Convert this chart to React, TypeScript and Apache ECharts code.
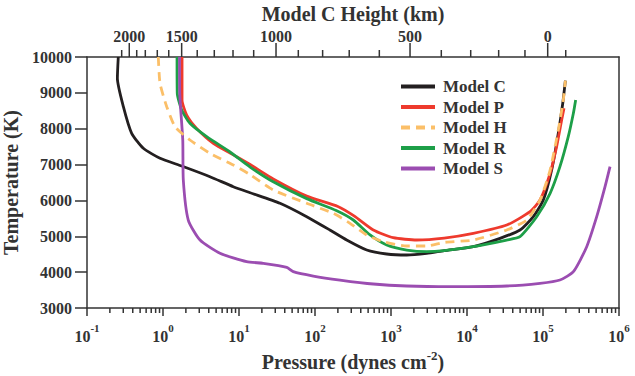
import React, { useEffect, useRef } from "react";
import * as echarts from "echarts";

const FONT = "Liberation Serif";
const INK = "#333333";

const modelNames = ["Model C", "Model P", "Model H", "Model R", "Model S"];
const modelColors = ["#231f20", "#ee3a2d", "#fbbf68", "#1d9f48", "#9b4db1"];

// Temperature structure of each model: [pressure (dynes cm^-2), temperature (K)]
const modelC: number[][] = [
  [0.258, 10000], [0.251, 9406], [0.301, 8614], [0.387, 7872], [0.551, 7454],
  [0.914, 7175], [1.76, 6960], [4.15, 6662], [8.41, 6383], [14.0, 6215],
  [34.6, 5920], [77.8, 5546], [157, 5175], [261, 4896], [479, 4617],
  [877, 4506], [1610, 4478], [2950, 4525], [5010, 4600], [12100, 4710],
  [27200, 4943], [49800, 5175], [74600, 5546], [101000, 6012], [130000, 6848],
  [159000, 7872], [182000, 8709], [197000, 9339],
];

const modelP: number[][] = [
  [1.78, 10000], [1.78, 8800], [2.05, 8380], [2.77, 8010], [4.59, 7590],
  [8.41, 7270], [14.0, 7000], [28.2, 6600], [77.8, 6120], [200, 5830],
  [330, 5560], [585, 5175], [1070, 4960], [2180, 4896], [5010, 4950],
  [12100, 5082], [33300, 5314], [67500, 5686], [91400, 6012], [124000, 6756],
  [151000, 7500], [176000, 8243], [189000, 8569],
];

const modelH: number[][] = [
  [0.867, 10000], [0.914, 9266], [1.12, 8614], [1.44, 8056], [2.26, 7685],
  [4.15, 7314], [8.41, 6988], [14.0, 6720], [28.2, 6291], [77.8, 5920],
  [174, 5640], [289, 5361], [479, 5036], [793, 4850], [1610, 4729],
  [2950, 4729], [5010, 4830], [12100, 4896], [33300, 5175], [61000, 5454],
  [91400, 6012], [124000, 6848], [159000, 7964], [185000, 8801], [197000, 9339],
];

const modelR: number[][] = [
  [1.53, 10000], [1.54, 8988], [1.76, 8522], [2.26, 8151], [3.76, 7777],
  [7.62, 7350], [14.0, 6930], [28.2, 6520], [77.8, 6050], [190, 5720],
  [319, 5454], [530, 5036], [877, 4757], [1610, 4617], [2950, 4571],
  [5010, 4600], [12100, 4710], [33300, 4896], [49800, 4989], [82600, 5546],
  [124000, 6198], [167000, 6941], [215000, 7777], [251000, 8430], [269000, 8801],
];

const modelS: number[][] = [
  [1.65, 10000], [1.66, 9000], [1.82, 7685], [1.85, 6570], [2.15, 5454],
  [3.07, 4896], [5.62, 4525], [12.6, 4292], [20.9, 4246], [42.5, 4135],
  [51.8, 4013], [95, 3892], [213, 3780], [585, 3669], [1610, 3613],
  [5970, 3594], [33300, 3613], [91400, 3688], [167000, 3780], [251000, 4013],
  [376000, 4710], [509000, 5546], [655000, 6383], [762000, 6941],
];

const modelData = [modelC, modelP, modelH, modelR, modelS];

// Pressure range and temperature range of the frame
const pressureMin = 0.1;
const pressureMax = 1e6;
const tempMin = 3000;
const tempMax = 10000;
const tempStep = 1000;

// Model C height scale along the top edge (km) and the pressure at each height
const heightTicks = [
  2100, 2000, 1900, 1800, 1700, 1600, 1500, 1400, 1300, 1200, 1100, 1000,
  900, 800, 700, 600, 500, 400, 300, 200, 100, 0, -100,
];
const heightTickPressures = [
  0.286, 0.36, 0.451, 0.585, 0.841, 1.19, 1.76, 2.82, 4.73, 8.34, 15.6, 30.7,
  60.3, 126, 282, 702, 1780, 4590, 11190, 26100, 57900, 115300, 199100,
];

// Minor pressure ticks: 2..9 within each decade
const pressureMinorTicks: number[] = [];
for (let e = -1; e < 6; e++) {
  for (let m = 2; m <= 9; m++) pressureMinorTicks.push(m * Math.pow(10, e));
}

export default function App() {
  const ref = useRef<HTMLDivElement>(null);

  useEffect(() => {
    if (!ref.current) return;
    const chart = echarts.init(ref.current, null, { renderer: "svg" });

    const lineSeries = modelNames.map((name, i) => ({
      name,
      type: "line",
      xAxisIndex: 0,
      yAxisIndex: 0,
      data: modelData[i],
      symbol: "none",
      showSymbol: false,
      smooth: 0.2,
      z: name === "Model H" ? 4 : 3,
      lineStyle: {
        color: modelColors[i],
        width: 2.8,
        type: name === "Model H" ? [9, 6] : "solid",
      },
      itemStyle: { color: modelColors[i] },
    }));

    const boldText = { fontFamily: FONT, fontWeight: "bold" as const, color: INK };

    const option: any = {
      animation: false,
      backgroundColor: "#ffffff",
      grid: {
        left: 87,
        right: 16,
        top: 57,
        bottom: 68,
        containLabel: false,
        outerBoundsMode: "none",
      },
      legend: {
        data: modelNames,
        orient: "vertical",
        left: 399,
        top: 78,
        itemWidth: 34,
        itemHeight: 14,
        itemGap: 3.5,
        padding: 0,
        lineStyle: { width: 4 },
        itemStyle: { opacity: 0 },
        textStyle: {
          ...boldText,
          fontSize: 17,
          padding: [0, 0, 0, 3],
          lineHeight: 17,
        },
      },
      xAxis: [
        {
          type: "log",
          logBase: 10,
          min: pressureMin,
          max: pressureMax,
          position: "bottom",
          splitNumber: 7,
          name: "Pressure (dynes cm{s|-2})",
          nameLocation: "middle",
          nameGap: 41,
          nameTextStyle: {
            ...boldText,
            fontSize: 20,
            lineHeight: 26,
            rich: {
              s: { ...boldText, fontSize: 13, lineHeight: 13, verticalAlign: "top" },
            },
          },
          axisLine: { show: true, lineStyle: { color: INK, width: 1.5 } },
          axisTick: { show: true, inside: false, length: 8, lineStyle: { color: INK, width: 1.5 } },
          splitLine: { show: false },
          axisLabel: {
            margin: 14,
            formatter: (v: number) => `{b|10}{s|${Math.round(Math.log10(v))}}`,
            rich: {
              b: { ...boldText, fontSize: 16, lineHeight: 22, verticalAlign: "bottom" },
              s: { ...boldText, fontSize: 11, lineHeight: 11, verticalAlign: "top" },
            },
          },
        },
        {
          type: "log",
          logBase: 10,
          min: pressureMin,
          max: pressureMax,
          position: "top",
          name: "Model C Height (km)",
          nameLocation: "middle",
          nameGap: 33,
          nameTextStyle: { ...boldText, fontSize: 20 },
          axisLine: { show: true, lineStyle: { color: INK, width: 1.5 } },
          axisTick: { show: false },
          axisLabel: { show: false },
          splitLine: { show: false },
        },
      ],
      yAxis: [
        {
          type: "value",
          min: tempMin,
          max: tempMax,
          interval: tempStep,
          position: "left",
          name: "Temperature (K)",
          nameLocation: "middle",
          nameGap: 63,
          nameRotate: 90,
          nameTextStyle: { ...boldText, fontSize: 20 },
          axisLine: { show: true, lineStyle: { color: INK, width: 1.5 } },
          axisTick: { show: true, inside: false, length: 12, lineStyle: { color: INK, width: 1.5 } },
          splitLine: { show: false },
          axisLabel: {
            ...boldText,
            margin: 15,
            fontSize: 16,
            formatter: (v: number) => String(v),
          },
        },
        {
          type: "value",
          min: tempMin,
          max: tempMax,
          position: "right",
          axisLine: { show: true, lineStyle: { color: INK, width: 1.5 } },
          axisTick: { show: false },
          axisLabel: { show: false },
          splitLine: { show: false },
        },
      ],
      series: [
        ...lineSeries,
        {
          // minor pressure ticks below the bottom axis
          type: "custom",
          name: "pressure-minor",
          xAxisIndex: 0,
          yAxisIndex: 0,
          silent: true,
          clip: false,
          data: pressureMinorTicks.map((p) => [p, tempMin]),
          encode: { x: 0, y: 1 },
          renderItem: (_params: any, api: any) => {
            const pt = api.coord([api.value(0), tempMin]);
            return {
              type: "line",
              shape: { x1: pt[0], y1: pt[1], x2: pt[0], y2: pt[1] + 5 },
              style: { stroke: INK, lineWidth: 1.5 },
            };
          },
        },
        {
          // Model C height scale above the top axis
          type: "custom",
          name: "height-scale",
          xAxisIndex: 0,
          yAxisIndex: 0,
          silent: true,
          clip: false,
          data: heightTicks.map((h, i) => [heightTickPressures[i], tempMax, h]),
          encode: { x: 0, y: 1 },
          renderItem: (_params: any, api: any) => {
            const h = api.value(2);
            const pt = api.coord([api.value(0), tempMax]);
            const major = h % 500 === 0;
            const len = major ? 14 : 7;
            const children: any[] = [
              {
                type: "line",
                shape: { x1: pt[0], y1: pt[1], x2: pt[0], y2: pt[1] - len },
                style: { stroke: INK, lineWidth: 1.5 },
              },
            ];
            if (major) {
              children.push({
                type: "text",
                x: pt[0],
                y: pt[1] - len + 1,
                style: {
                  text: String(h),
                  align: "center",
                  verticalAlign: "bottom",
                  fontFamily: FONT,
                  fontWeight: "bold",
                  fontSize: 16,
                  fill: INK,
                },
              });
            }
            return { type: "group", children };
          },
        },
      ],
    };

    chart.setOption(option);
    return () => chart.dispose();
  }, []);

  return <div ref={ref} style={{ width: 635, height: 376, position: "absolute", left: 0, top: 0 }} />;
}
